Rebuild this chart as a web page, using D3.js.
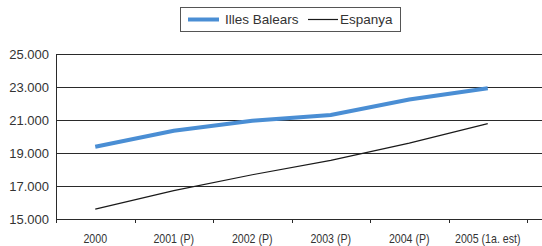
<!DOCTYPE html>
<html>
<head>
<meta charset="utf-8">
<script src="https://cdn.jsdelivr.net/npm/d3@7"></script>
<style>
  body { margin: 0; background: #fff; }
  svg { display: block; font-family: "Liberation Sans", Arial, sans-serif; }
</style>
</head>
<body>
<svg id="chart" width="542" height="246"></svg>
<script>
'use strict';

const categories = ['2000', '2001 (P)', '2002 (P)', '2003 (P)', '2004 (P)', '2005 (1a. est)'];
const balears    = [19380, 20350, 20950, 21300, 22240, 22930];
const espanya    = [15600, 16720, 17680, 18550, 19600, 20780];
const yTicks     = [15000, 17000, 19000, 21000, 23000, 25000];

const svg = d3.select('#chart');
const margin = { left: 56, top: 54, bottom: 219 };
const plotRight = 527;

const x = d3.scaleBand().domain(categories).range([margin.left, plotRight]);
const y = d3.scaleLinear().domain([15000, 25000]).range([margin.bottom, margin.top]);

const fmt = v => d3.format(',')(v).replace(/,/g, '.');

// gridlines
svg.append('g')
  .selectAll('line')
  .data(yTicks)
  .join('line')
    .attr('x1', margin.left).attr('x2', 542)
    .attr('y1', d => Math.round(y(d)) + 0.5).attr('y2', d => Math.round(y(d)) + 0.5)
    .attr('stroke', '#2a2a2a').attr('stroke-width', 1);

// y axis
svg.append('line')
  .attr('x1', margin.left + 0.5).attr('x2', margin.left + 0.5)
  .attr('y1', margin.top).attr('y2', margin.bottom + 4)
  .attr('stroke', '#2a2a2a');

svg.append('g')
  .selectAll('text')
  .data(yTicks)
  .join('text')
    .attr('x', 49).attr('y', d => y(d))
    .attr('dy', '0.35em')
    .attr('text-anchor', 'end')
    .attr('font-size', 13)
    .attr('fill', '#333')
    .text(fmt);

// category ticks
const tickX = categories.map(c => x(c)).concat([plotRight]);
svg.append('g')
  .selectAll('line')
  .data(tickX.slice(1))
  .join('line')
    .attr('x1', d => Math.round(d) + 0.5).attr('x2', d => Math.round(d) + 0.5)
    .attr('y1', margin.bottom).attr('y2', margin.bottom + 4)
    .attr('stroke', '#2a2a2a');

// condensed category labels
svg.append('g')
  .selectAll('text')
  .data(categories)
  .join('text')
    .attr('transform', d => `translate(${x(d) + x.bandwidth() / 2},239) scale(0.85,1)`)
    .attr('dy', '0.35em')
    .attr('text-anchor', 'middle')
    .attr('font-size', 12.5)
    .attr('fill', '#333')
    .text(d => d);

// lines
const line = d3.line()
  .x((d, i) => x(categories[i]) + x.bandwidth() / 2)
  .y(d => y(d));

svg.append('path')
  .datum(espanya)
  .attr('d', line)
  .attr('fill', 'none')
  .attr('stroke', '#1a1a1a')
  .attr('stroke-width', 1.2);

svg.append('path')
  .datum(balears)
  .attr('d', line)
  .attr('fill', 'none')
  .attr('stroke', '#4a8ed4')
  .attr('stroke-width', 4);

// legend
const legend = svg.append('g');
legend.append('rect')
  .attr('x', 180.5).attr('y', 7.5).attr('width', 220).attr('height', 24)
  .attr('fill', '#fff').attr('stroke', '#555');

legend.append('line')
  .attr('x1', 188).attr('x2', 219).attr('y1', 19.5).attr('y2', 19.5)
  .attr('stroke', '#4a8ed4').attr('stroke-width', 4);
legend.append('text')
  .attr('x', 225).attr('y', 19.5).attr('dy', '0.35em')
  .attr('font-size', 13.5).attr('fill', '#333')
  .text('Illes Balears');

legend.append('line')
  .attr('x1', 308).attr('x2', 338).attr('y1', 19.5).attr('y2', 19.5)
  .attr('stroke', '#1a1a1a').attr('stroke-width', 1.2);
legend.append('text')
  .attr('x', 340).attr('y', 19.5).attr('dy', '0.35em')
  .attr('font-size', 13.5).attr('fill', '#333')
  .text('Espanya');
</script>
</body>
</html>
